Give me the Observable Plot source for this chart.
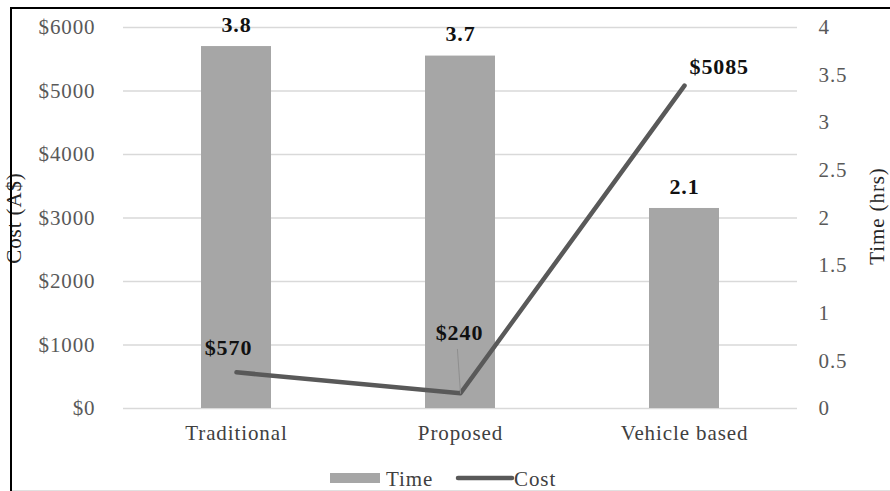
<!DOCTYPE html>
<html>
<head>
<meta charset="utf-8">
<script src="https://cdn.jsdelivr.net/npm/d3@7"></script>
<script src="https://cdn.jsdelivr.net/npm/@observablehq/plot@0.6"></script>
<style>
  html, body { margin: 0; padding: 0; background: #fff; overflow: hidden; }
  #chart { position: relative; width: 890px; height: 491px; font-family: "Liberation Serif", "Times New Roman", serif; }
  #chart svg text { letter-spacing: 0.9px; }
  #frame { position: absolute; left: 10px; top: 7px; width: 1000px; height: 1000px;
           border-left: 2.5px solid #000; border-top: 2.5px solid #000; pointer-events: none; }
  #footline { position: absolute; left: 12px; top: 490px; width: 878px; height: 1px; background: #e0e0e0; }
  #plot { position: absolute; left: 0; top: 0; }
  #legend { position: absolute; left: 0; top: 462px; }
</style>
</head>
<body>
<div id="chart">
  <div id="plot"></div>
  <svg id="legend" width="890" height="29"></svg>
  <div id="frame"></div>
  <div id="footline"></div>
</div>
<script>
// Categories and the two series (time on the secondary axis, cost on the primary)
const categories = ["Traditional", "Proposed", "Vehicle based"];
const timeHrs = [3.8, 3.7, 2.1];
const costAUD = [570, 240, 5085];

// Axis ticks
const costTicks = [0, 1000, 2000, 3000, 4000, 5000, 6000];
const timeTicks = [0, 0.5, 1, 1.5, 2, 2.5, 3, 3.5, 4];
const costMax = 6000;
const timeMax = 4;

// Time values share the cost scale through a fixed ratio (secondary axis)
const k = costMax / timeMax;

const rows = categories.map((category, i) => ({category, time: timeHrs[i], cost: costAUD[i]}));

const barColor = "#a6a6a6";
const lineColor = "#595959";

// A plain leader line from a moved label back to its point
const leader = {draw(context, l) { context.moveTo(0, 0); context.lineTo(0, -l); }};

const valueLabel = {fontWeight: "bold", fontSize: 22, fill: "#111"};

const chart = Plot.plot({
  width: 890,
  height: 462,
  marginTop: 27,
  marginBottom: 54,
  marginLeft: 123,
  marginRight: 93,
  style: {fontFamily: '"Liberation Serif", "Times New Roman", serif', fontSize: "21px", background: "transparent", overflow: "visible"},
  x: {domain: categories, paddingInner: 0.689, paddingOuter: 0.3445, align: 0.5, label: null},
  y: {domain: [0, costMax], label: null},
  marks: [
    Plot.gridY(costTicks, {stroke: "#d9d9d9", strokeOpacity: 1, strokeWidth: 1.6}),
    Plot.barY(rows, {x: "category", y: d => d.time * k, fill: barColor}),
    Plot.text(rows, {x: "category", y: d => d.time * k, text: d => d.time.toFixed(1), dy: -22, ...valueLabel}),

    // Cost line
    Plot.line(rows, {x: "category", y: "cost", stroke: lineColor, strokeWidth: 4.5, strokeLinejoin: "round", strokeLinecap: "round"}),
    Plot.vector(rows, {filter: d => d.category === "Proposed", x: "category", y: "cost", length: 44, rotate: -4,
                       anchor: "start", shape: leader, stroke: "#8c8c8c", strokeWidth: 0.9}),
    Plot.text(rows, {filter: d => d.category === "Traditional", x: "category", y: "cost", text: d => `$${d.cost}`, dx: -8, dy: -24, ...valueLabel}),
    Plot.text(rows, {filter: d => d.category === "Proposed", x: "category", y: "cost", text: d => `$${d.cost}`, dx: -1, dy: -60, ...valueLabel}),
    Plot.text(rows, {filter: d => d.category === "Vehicle based", x: "category", y: "cost", text: d => `$${d.cost}`, dx: 5, dy: -19, textAnchor: "start", ...valueLabel}),

    // Axes
    Plot.axisY(costTicks, {anchor: "left", tickSize: 0, tickPadding: 28, tickFormat: d => `$${d}`, color: "#595959", label: null}),
    Plot.axisY(timeTicks.map(t => t * k), {anchor: "right", tickSize: 0, tickPadding: 21, tickFormat: d => String(d / k), color: "#595959", label: null}),
    Plot.axisX({tickSize: 0, tickPadding: 17, color: "#404040", label: null}),

    // Axis titles
    Plot.text(["Cost (A$)"], {frameAnchor: "left", dx: -109, rotate: -90, textAnchor: "middle", text: d => d, fontSize: 21, fill: "#262626"}),
    Plot.text(["Time (hrs)"], {frameAnchor: "right", dx: 80, dy: -2, rotate: -90, textAnchor: "middle", text: d => d, fontSize: 21, fill: "#262626"})
  ]
});
document.getElementById("plot").append(chart);

// Legend below the plot
const legend = d3.select("#legend");
legend.append("rect").attr("x", 330).attr("y", 11).attr("width", 50).attr("height", 10).attr("fill", barColor);
legend.append("text").attr("x", 386).attr("y", 24).text("Time");
legend.append("line").attr("x1", 458).attr("x2", 512).attr("y1", 16).attr("y2", 16)
  .attr("stroke", lineColor).attr("stroke-width", 4.5).attr("stroke-linecap", "round");
legend.append("text").attr("x", 514).attr("y", 24).text("Cost");
legend.selectAll("text").attr("font-family", '"Liberation Serif", "Times New Roman", serif')
  .attr("font-size", 21).attr("fill", "#404040").attr("letter-spacing", "0.9px");
</script>
</body>
</html>
